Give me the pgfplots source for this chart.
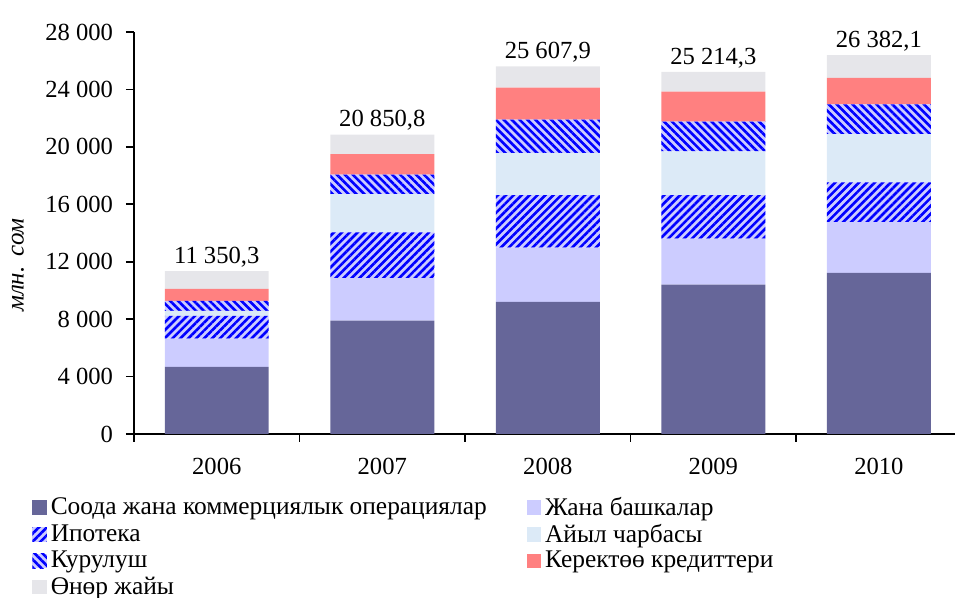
\documentclass[border=0pt]{standalone}
\usepackage{fontspec}
\setmainfont{Liberation Serif}
\usepackage{pgfplots}
\pgfplotsset{compat=1.18}
\usetikzlibrary{patterns.meta}
\definecolor{soda}{HTML}{666699}
\definecolor{lav}{HTML}{CCCCFF}
\definecolor{ayil}{HTML}{DCEAF7}
\definecolor{ker}{HTML}{FF8080}
\definecolor{onor}{HTML}{E6E6EA}
\newcommand{\fs}{\fontsize{12.3}{14.5}\selectfont}
\newcommand{\fl}{\fontsize{12.7}{15}\selectfont}
\pgfplotsset{sq/.style={legend image code/.code={\fill[##1] (0pt,-3.6pt) rectangle (7.2pt,3.6pt);}}}

\begin{document}
\begin{tikzpicture}
% 1 px of the reference = 0.5pt; axis box sits at (0,0)--(410.5pt,201pt)
\useasboundingbox (-67pt,-82pt) rectangle (410.5pt,217pt);
\begin{axis}[
  at={(0,0)}, anchor=south west,
  scale only axis, width=410.5pt, height=201pt,
  ybar stacked, bar width=0.628,
  xmin=-0.5, xmax=4.46, ymin=0, ymax=28000,
  axis x line*=bottom, axis y line*=left,
  axis line style={line width=0.9pt},
  xtick={0,...,4}, xticklabels={2006,2007,2008,2009,2010},
  major x tick style={draw=none},
  minor xtick={-0.5,0.5,1.5,2.5,3.5},
  ytick={0,4000,...,28000},
  scaled y ticks=false,
  tick align=outside, major tick length=4pt, minor tick length=4pt,
  every tick/.style={line width=0.9pt, black},
  x tick label style={font=\fs, yshift=-4.5pt},
  y tick label style={font=\fs, xshift=-3pt, /pgf/number format/1000 sep={\ }, /pgf/number format/assume math mode=true},
  ylabel={\textit{млн.\ \hspace{0.15em}сом}},
  every axis y label/.style={at={(rel axis cs:0,0.42)}, xshift=-58pt, rotate=90, anchor=center, font=\fontsize{12.5}{15}\selectfont},
  legend columns=2, legend cell align=left,
  legend style={draw=none, fill=none, font=\fl, at={(rel axis cs:0,0)}, anchor=north west,
    xshift=-54pt, yshift=-27.25pt, row sep=-1pt,
    /tikz/every even column/.append style={column sep=18pt}},
  every node near coord/.append style={font=\fs, text=black, anchor=south, yshift=-1.5pt},
]
\addplot[fill=soda, draw=none, sq] coordinates {(0,4670) (1,7900) (2,9200) (3,10400) (4,11230)};
\addlegendentry{Соода жана коммерциялык операциялар}
\addplot[fill=lav, draw=none, sq] coordinates {(0,1970) (1,2950) (2,3780) (3,3200) (4,3530)};
\addlegendentry{Жана башкалар}
\addplot[draw=none, preaction={fill=lav}, pattern={Lines[angle=45,distance=2.8pt,line width=1.3pt]}, pattern color=blue, sq] coordinates {(0,1580) (1,3190) (2,3650) (3,3030) (4,2770)};
\addlegendentry{Ипотека}
\addplot[fill=ayil, draw=none, sq] coordinates {(0,350) (1,2670) (2,2930) (3,3050) (4,3350)};
\addlegendentry{Айыл чарбасы}
\addplot[draw=none, preaction={fill=lav}, pattern={Lines[angle=-45,distance=2.8pt,line width=1.3pt]}, pattern color=blue, sq] coordinates {(0,700) (1,1350) (2,2340) (3,2080) (4,2080)};
\addlegendentry{Курулуш}
\addplot[fill=ker, draw=none, sq] coordinates {(0,840) (1,1440) (2,2220) (3,2080) (4,1850)};
\addlegendentry{Керектөө кредиттери}
\addplot[fill=onor, draw=none, sq] coordinates {(0,1240.3) (1,1350.8) (2,1487.9) (3,1374.3) (4,1572.1)};
\addlegendentry{Өнөр жайы}
% near-zero layer carrying the totals above each bar (no legend entry)
\addplot[draw=none, fill=none, nodes near coords, point meta=explicit symbolic] coordinates {(0,0.1) [11 350,3] (1,0.1) [20 850,8] (2,0.1) [25 607,9] (3,0.1) [25 214,3] (4,0.1) [26 382,1]};
\end{axis}
\end{tikzpicture}
\end{document}
